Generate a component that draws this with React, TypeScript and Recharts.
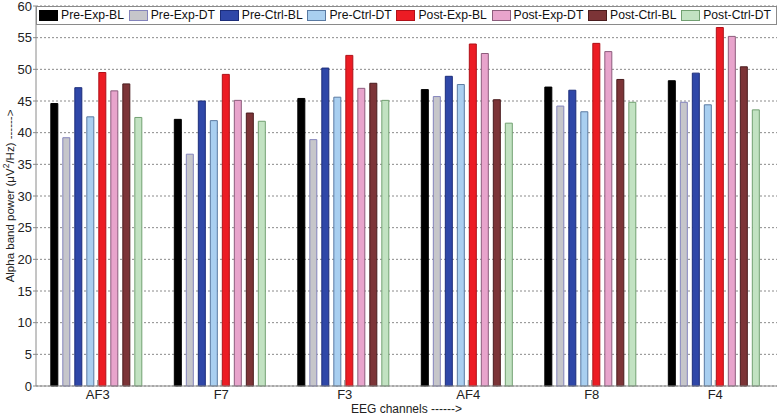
import React from "react";
import { BarChart, Bar, XAxis, YAxis, CartesianGrid } from "recharts";

const categories = ["AF3", "F7", "F3", "AF4", "F8", "F4"];

const preExpBL = [44.6, 42.1, 45.4, 46.8, 47.2, 48.2];
const preExpDT = [39.2, 36.6, 38.9, 45.7, 44.2, 44.8];
const preCtrlBL = [47.1, 45.0, 50.2, 48.9, 46.7, 49.4];
const preCtrlDT = [42.5, 41.9, 45.6, 47.6, 43.3, 44.4];
const postExpBL = [49.5, 49.2, 52.2, 54.0, 54.1, 56.6];
const postExpDT = [46.6, 45.1, 47.0, 52.5, 52.8, 55.2];
const postCtrlBL = [47.7, 43.1, 47.8, 45.2, 48.4, 50.4];
const postCtrlDT = [42.4, 41.8, 45.1, 41.5, 44.8, 43.6];

const seriesNames = [
  "Pre-Exp-BL",
  "Pre-Exp-DT",
  "Pre-Ctrl-BL",
  "Pre-Ctrl-DT",
  "Post-Exp-BL",
  "Post-Exp-DT",
  "Post-Ctrl-BL",
  "Post-Ctrl-DT",
];
const seriesValues = [preExpBL, preExpDT, preCtrlBL, preCtrlDT, postExpBL, postExpDT, postCtrlBL, postCtrlDT];
const fills = ["#000000", "#c6c6ca", "#2f47a8", "#a9cff0", "#ec1c24", "#e8a4cc", "#7c3437", "#c2e2c2"];
const strokes = ["#000000", "#8484bc", "#1c2d7a", "#5a7aa2", "#b01018", "#8c5c7c", "#4a1c1e", "#72a072"];

const yTicks = [0, 5, 10, 15, 20, 25, 30, 35, 40, 45, 50, 55, 60];

const data = categories.map((c, i) => {
  const row: Record<string, string | number> = { name: c };
  seriesNames.forEach((s, k) => {
    row[s] = seriesValues[k][i];
  });
  return row;
});

const YLabel = (props: any) => {
  const vb = props.viewBox || {};
  const cx = 10;
  const cy = (vb.y || 0) + (vb.height || 0) / 2;
  return (
    <text
      x={cx}
      y={cy}
      transform={`rotate(-90 ${cx} ${cy})`}
      textAnchor="middle"
      dominantBaseline="central"
      fontSize={11.5}
      fill="#222"
    >
      <tspan>Alpha band power (μV</tspan>
      <tspan dy={-4} fontSize={8.5}>2</tspan>
      <tspan dy={4}>/Hz) ------&gt;</tspan>
    </text>
  );
};

const Legend8 = () => (
  <div
    style={{
      position: "absolute",
      left: 36,
      top: 6,
      width: 741,
      height: 19,
      boxSizing: "border-box",
      border: "1px solid #8a8a8a",
      background: "#fff",
      display: "flex",
      alignItems: "center",
      justifyContent: "space-between",
      padding: "0 5px 0 2px",
      fontSize: 12.2,
      color: "#111",
      whiteSpace: "nowrap",
    }}
  >
    {seriesNames.map((s, k) => (
      <div key={s} style={{ display: "flex", alignItems: "center", flexShrink: 0 }}>
        <div
          style={{
            width: 19,
            height: 11,
            boxSizing: "border-box",
            background: fills[k],
            border: `1px solid ${strokes[k]}`,
            marginRight: 3,
            flexShrink: 0,
          }}
        />
        <span style={{ lineHeight: "13px" }}>{s}</span>
      </div>
    ))}
  </div>
);

export default function App() {
  return (
    <div
      style={{
        position: "absolute",
        left: 0,
        top: 0,
        width: 781,
        height: 416,
        background: "#fff",
        fontFamily: "'Liberation Sans', Arial, sans-serif",
      }}
    >
      <BarChart
        width={781}
        height={416}
        data={data}
        margin={{ top: 6, right: 4, left: 0, bottom: 0 }}
        barCategoryGap="12%"
        barGap={5}
      >
        <CartesianGrid vertical={false} stroke="#8a8a8a" strokeDasharray="2 2" yAxisId="left" />
        <XAxis
          dataKey="name"
          height={30}
          stroke="#8a8a8a"
          tickSize={-6}
          tickMargin={10}
          tick={{ fill: "#222", fontSize: 13 }}
          label={{ value: "EEG channels ------>", position: "insideBottom", offset: 3, fontSize: 12, fill: "#222" }}
        />
        <YAxis
          yAxisId="left"
          width={36}
          domain={[0, 60]}
          ticks={yTicks}
          interval={0}
          stroke="#8a8a8a"
          tickSize={3}
          tickMargin={1}
          tick={{ fill: "#222", fontSize: 13 }}
          label={<YLabel />}
        />
        <YAxis
          yAxisId="right"
          orientation="right"
          width={0}
          domain={[0, 60]}
          ticks={yTicks}
          stroke="#8a8a8a"
          tick={false}
        />
        {seriesNames.map((s, k) => (
          <Bar
            key={s}
            yAxisId="left"
            dataKey={s}
            fill={fills[k]}
            stroke={strokes[k]}
            strokeWidth={1}
            isAnimationActive={false}
          />
        ))}
      </BarChart>
      <Legend8 />
    </div>
  );
}
